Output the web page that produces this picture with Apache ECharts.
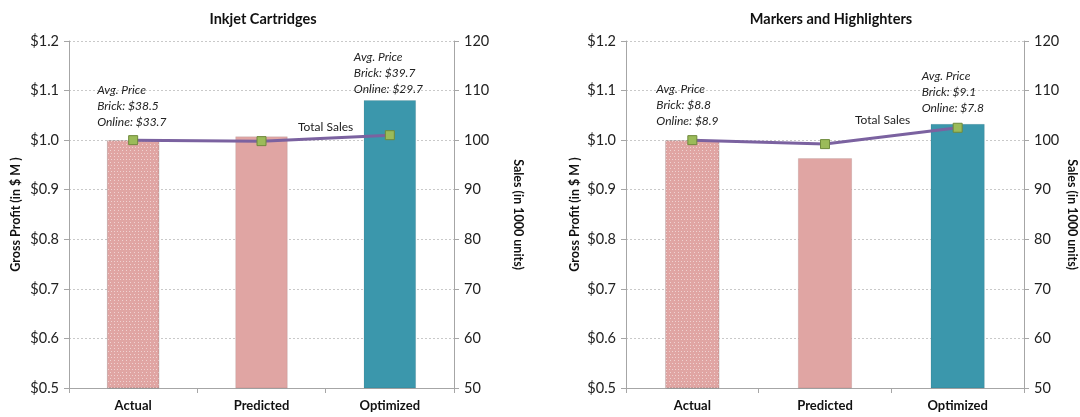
<!DOCTYPE html>
<html>
<head>
<meta charset="utf-8">
<script src="https://cdn.jsdelivr.net/npm/echarts@6/dist/echarts.min.js"></script>
<style>
  html, body { margin: 0; padding: 0; background: #fff; }
  #chart { width: 1080px; height: 417px; }
</style>
</head>
<body>
<div id="chart"></div>
<script>
// data
var categories = ['Actual', 'Predicted', 'Optimized'];
var inkjetProfit = [1.0, 1.008, 1.081];
var inkjetSales = [100, 99.8, 101];
var markersProfit = [1.0, 0.964, 1.033];
var markersSales = [100, 99.2, 102.5];
var inkjetPrices = [['$38.5', '$33.7'], null, ['$39.7', '$29.7']];
var markersPrices = [['$8.8', '$8.9'], null, ['$9.1', '$7.8']];
var titles = ['Inkjet Cartridges', 'Markers and Highlighters'];

var FONT = 'Lato, "Open Sans", sans-serif';
var pink = '#e0a5a3', teal = '#3b97ac';

var chart = echarts.init(document.getElementById('chart'));

function barData(values) {
  return values.map(function (v, i) {
    var item = { value: v, itemStyle: { color: i === 2 ? teal : pink } };
    if (i === 0) {
      // dotted fill on the Actual bar
      item.itemStyle.decal = {
        symbol: 'rect',
        symbolSize: 1,
        color: 'rgba(255,255,255,0.5)',
        dashArrayX: [[1, 2], [0, 1.5, 1, 0.5]],
        dashArrayY: [1, 1.5],
        rotation: 0
      };
    }
    return item;
  });
}

function lineData(values, prices, lift) {
  return values.map(function (v, i) {
    var item = { value: v };
    if (prices[i]) {
      item.label = {
        show: true,
        position: 'top',
        distance: lift[i],
        formatter: ['Avg. Price', 'Brick: ' + prices[i][0], 'Online: ' + prices[i][1]].join('\n'),
        fontStyle: 'italic',
        fontFamily: FONT,
        fontSize: 12,
        lineHeight: 16,
        color: '#222',
        align: 'left',
        offset: [-36, 0]
      };
    }
    return item;
  });
}

var grids = [
  { left: 69, right: 626, top: 41, bottom: 29 },
  { left: 626, right: 53, top: 41, bottom: 29 }
];

var xAxes = [], yAxes = [], series = [];
var leftGaps = [47, 45], rightGaps = [58, 42];
[0, 1].forEach(function (g) {
  xAxes.push({
    type: 'category', gridIndex: g, data: categories,
    axisLine: { lineStyle: { color: '#a6a6a6' } },
    axisTick: { show: true, length: 5, lineStyle: { color: '#a6a6a6' } },
    axisLabel: { fontFamily: FONT, fontWeight: 'bold', fontSize: 13, color: '#111', margin: 11 }
  });
  yAxes.push({
    type: 'value', gridIndex: g, min: 0.5, max: 1.2, interval: 0.1, position: 'left',
    name: 'Gross Profit (in $ M )', nameLocation: 'middle', nameGap: leftGaps[g],
    nameTextStyle: { fontFamily: FONT, fontWeight: 'bold', fontSize: 12.5, color: '#111' },
    axisLine: { show: true, lineStyle: { color: '#a6a6a6' } },
    axisTick: { show: true, length: 5, lineStyle: { color: '#a6a6a6' } },
    axisLabel: { fontFamily: FONT, fontSize: 14.5, color: '#222', margin: 10,
      formatter: function (v) { return '$' + v.toFixed(1); } },
    splitLine: { lineStyle: { color: '#c9c9c9', type: [2, 2] } }
  });
  yAxes.push({
    type: 'value', gridIndex: g, min: 50, max: 120, interval: 10, position: 'right',
    name: 'Sales (in 1000 units)', nameLocation: 'middle', nameGap: rightGaps[g], nameRotate: -90,
    nameTextStyle: { fontFamily: FONT, fontWeight: 'bold', fontSize: 12.5, color: '#111' },
    axisLine: { show: true, lineStyle: { color: '#a6a6a6' } },
    axisTick: { show: true, length: 5, lineStyle: { color: '#a6a6a6' } },
    axisLabel: { fontFamily: FONT, fontSize: 14.5, color: '#222', margin: 10 },
    splitLine: { show: false }
  });
});

var profits = [inkjetProfit, markersProfit];
var sales = [inkjetSales, markersSales];
var prices = [inkjetPrices, markersPrices];
var lifts = [[5, 0, 33], [6, 0, 7]];

[0, 1].forEach(function (g) {
  series.push({
    type: 'bar', xAxisIndex: g, yAxisIndex: g * 2, barWidth: '41%',
    data: barData(profits[g]),
    itemStyle: { borderColor: 'rgba(0,0,0,0.08)', borderWidth: 1 }
  });
  series.push({
    type: 'line', xAxisIndex: g, yAxisIndex: g * 2 + 1,
    data: lineData(sales[g], prices[g], lifts[g]),
    symbol: 'rect', symbolSize: 9,
    lineStyle: { color: '#7b62a0', width: 3 },
    itemStyle: { color: '#9bbb59', borderColor: '#6f8a3c', borderWidth: 1 },
    z: 5
  });
});

chart.setOption({
  animation: false,
  title: [0, 1].map(function (g) {
    return {
      text: titles[g], left: g === 0 ? 258 : 826, top: 7, textAlign: 'center',
      textStyle: { fontFamily: FONT, fontWeight: 'bold', fontSize: 14.5, color: '#111' }
    };
  }),
  grid: grids,
  xAxis: xAxes,
  yAxis: yAxes,
  series: series,
  graphic: [
    { type: 'text', left: 298, top: 121, style: { text: 'Total Sales', font: '12px ' + FONT, fill: '#222' } },
    { type: 'text', left: 855, top: 114, style: { text: 'Total Sales', font: '12px ' + FONT, fill: '#222' } }
  ]
});
</script>
</body>
</html>
